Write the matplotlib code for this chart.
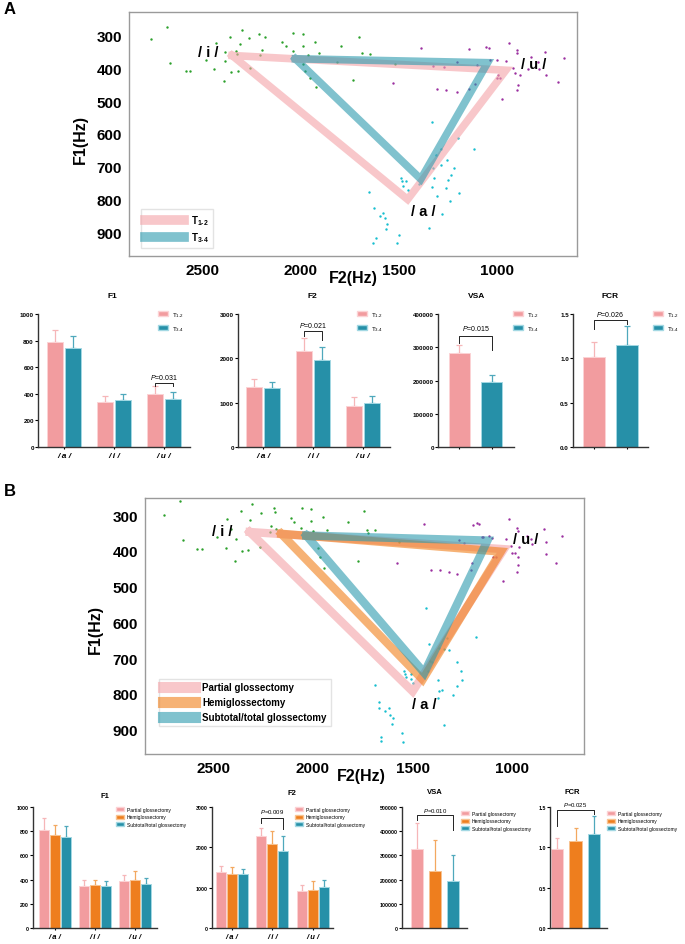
import matplotlib
matplotlib.use('Agg')
import matplotlib.pyplot as plt
from matplotlib.lines import Line2D
from matplotlib.patches import Patch
import numpy as np

plt.rcParams['font.family'] = ['Liberation Sans', 'DejaVu Sans']
plt.rcParams['mathtext.fontset'] = 'custom'
plt.rcParams['mathtext.rm'] = 'Liberation Sans'
plt.rcParams['mathtext.it'] = 'Liberation Sans:italic'

# ---------------- data ----------------
vowels = ['/ a /', '/ i /', '/ u /']

# vowel triangle corners (order: /i/, /u/, /a/), F2 and F1 in Hz
triA_t12_f2 = [2347, 954, 1454]
triA_t12_f1 = [360, 405, 800]
triA_t34_f2 = [2025, 1047, 1387]
triA_t34_f1 = [370, 382, 738]

triB_part_f2 = [2317, 1042, 1500]
triB_part_f1 = [347, 395, 793]
triB_hemi_f2 = [2159, 1058, 1450]
triB_hemi_f1 = [352, 402, 760]
triB_sub_f2 = [2033, 1125, 1442]
triB_sub_f1 = [357, 371, 741]

# individual tokens, panel A
A_i_f2 = [2760, 2680, 2663, 2583, 2564, 2481, 2437, 2428, 2387, 2381, 2381, 2357, 2352, 2328, 2324,
          2318, 2306, 2299, 2263, 2255, 2211, 2207, 2194, 2182, 2093, 2073, 2039, 2035, 1988, 1986,
          1986, 1962, 1949, 1923, 1918, 1903, 1813, 1792, 1734, 1704, 1688, 1648, 1520, 1974]
A_i_f1 = [311, 272, 382, 407, 406, 373, 401, 323, 437, 349, 377, 302, 410, 346, 356,
          406, 326, 282, 307, 397, 294, 357, 342, 303, 320, 330, 346, 292, 294, 330,
          387, 357, 428, 318, 457, 352, 380, 330, 436, 302, 351, 354, 386, 406]
A_u_f2 = [1387, 1324, 1268, 1306, 1260, 1204, 1204, 1141, 1141, 1110, 1102, 1056, 1042, 1034, 1001,
          984, 974, 954, 940, 920, 906, 898, 898, 894, 898, 882, 840, 826, 792, 787, 755, 750, 690,
          656, 1527, 996, 1000]
A_u_f1 = [338, 393, 395, 462, 465, 381, 472, 341, 462, 448, 390, 334, 338, 375, 373,
          429, 492, 378, 322, 398, 415, 342, 351, 450, 465, 420, 402, 366, 380, 400, 349, 420, 442,
          367, 443, 420, 430]
A_a_f2 = [1651, 1625, 1629, 1617, 1595, 1580, 1569, 1563, 1557, 1508, 1498, 1489, 1484, 1476, 1464,
          1452, 1394, 1347, 1328, 1323, 1319, 1311, 1302, 1285, 1285, 1277, 1260, 1255, 1251, 1238,
          1234, 1217, 1200, 1192, 1115, 1330]
A_a_f1 = [776, 825, 932, 919, 850, 841, 858, 889, 875, 933, 908, 733, 745, 760, 743,
          772, 753, 886, 763, 704, 736, 665, 789, 647, 696, 844, 766, 681, 741, 804,
          726, 703, 612, 781, 647, 564]

# individual tokens, panel B
B_i_f2 = [2745, 2667, 2650, 2579, 2555, 2480, 2437, 2430, 2412, 2387, 2389, 2362, 2355, 2327, 2314,
          2305, 2267, 2259, 2217, 2209, 2195, 2192, 2183, 2112, 2095, 2058, 2055, 2012, 2008, 2000,
          1973, 1967, 1950, 1945, 1930, 1825, 1775, 1742, 1728, 1725, 1688, 1567]
B_i_f1 = [300, 259, 369, 396, 395, 362, 392, 312, 338, 367, 428, 289, 399, 397, 314,
          270, 388, 294, 347, 331, 279, 290, 338, 308, 319, 336, 279, 282, 316, 345,
          393, 418, 306, 448, 341, 319, 428, 289, 341, 349, 342, 374]
B_u_f2 = [1578, 1442, 1408, 1362, 1320, 1278, 1267, 1245, 1208, 1200, 1175, 1167, 1153, 1145, 1117,
          1100, 1095, 1080, 1047, 1033, 1017, 1005, 1000, 988, 978, 975, 973, 972, 972, 967,
          925, 905, 900, 842, 833, 833, 783, 750, 1205]
B_u_f1 = [433, 326, 452, 453, 458, 465, 369, 379, 452, 328, 321, 326, 362, 360, 359,
          364, 416, 418, 485, 368, 311, 385, 407, 406, 459, 335, 343, 417, 440, 390,
          357, 368, 380, 338, 410, 376, 434, 357, 435]
B_a_f2 = [1687, 1670, 1667, 1658, 1658, 1637, 1620, 1612, 1603, 1600, 1553, 1550, 1542, 1538, 1533,
          1508, 1507, 1500, 1433, 1425, 1417, 1412, 1403, 1375, 1375, 1370, 1367, 1353, 1345, 1342,
          1328, 1318, 1300, 1278, 1278, 1258, 1253, 1183]
B_a_f1 = [775, 823, 838, 921, 932, 849, 840, 859, 883, 866, 909, 935, 736, 743, 753,
          744, 758, 769, 560, 736, 660, 708, 711, 762, 810, 793, 672, 788, 886, 674,
          644, 677, 804, 779, 712, 736, 760, 641]

# bar charts, panel A (T1-2 vs T3-4)
A_f1_t12 = [790, 340, 397]
A_f1_t12_sd = [88, 46, 58]
A_f1_t34 = [742, 355, 364]
A_f1_t34_sd = [94, 42, 47]
A_f2_t12 = [1364, 2171, 920]
A_f2_t12_sd = [166, 294, 203]
A_f2_t34 = [1334, 1967, 1002]
A_f2_t34_sd = [121, 294, 159]
A_vsa = [282000, 194000]
A_vsa_sd = [26000, 22000]
A_fcr = [1.02, 1.153]
A_fcr_sd = [0.167, 0.207]

# bar charts, panel B (partial / hemi / subtotal-total)
B_f1 = [[810, 343, 392], [768, 354, 398], [749, 345, 367]]
B_f1_sd = [[99, 55, 42], [80, 44, 69], [91, 47, 50]]
B_f2 = [[1400, 2278, 920], [1342, 2080, 936], [1342, 1914, 1019]]
B_f2_sd = [[149, 199, 157], [166, 314, 224], [133, 364, 166]]
B_vsa = [327000, 237600, 193400]
B_vsa_sd = [108000, 125400, 106300]
B_fcr = [0.974, 1.077, 1.164]
B_fcr_sd = [0.141, 0.162, 0.220]

A_labels = ['T$_{\\mathregular{1\u20102}}$', 'T$_{\\mathregular{3\u20104}}$']
B_labels = ['Partial glossectomy', 'Hemiglossectomy', 'Subtotal/total glossectomy']

# ---------------- style ----------------
PINK, TEAL, ORANGE = '#f29c9f', '#2690a8', '#ee7e1e'
PINK_E, TEAL_E, ORANGE_E = '#fcd3d5', '#a3d8e3', '#f8c391'
PINK_ER, TEAL_ER, ORANGE_ER = '#f6b6b8', '#4fa8bc', '#f3a860'
TRI_PINK, TRI_TEAL, TRI_ORANGE = '#f4a3a8', '#2b9aae', '#f07f1a'

W, H = 685, 945
fig = plt.figure(figsize=(6.85, 9.45), dpi=100)


def px_axes(l, t, r, b):
    return fig.add_axes([l / W, 1 - b / H, (r - l) / W, (b - t) / H])


def triangle(ax, xlim, ylim, tris, lw, pts, vlabels):
    for f2, f1, c in pts:
        ax.scatter(f2, f1, s=3, color=c, linewidths=0, zorder=1)
    for f2, f1, c in tris:
        ax.plot(f2 + f2[:1], f1 + f1[:1], color=c, lw=lw, alpha=0.6,
                solid_joinstyle='miter', zorder=2)
    ax.set_xlim(*xlim)
    ax.set_ylim(*ylim)
    ax.set_xticks([2500, 2000, 1500, 1000])
    ax.set_yticks(range(300, 1000, 100))
    ax.tick_params(length=0, labelsize=11, pad=5)
    for lab in ax.get_xticklabels() + ax.get_yticklabels():
        lab.set_fontweight('bold')
    for s in ax.spines.values():
        s.set_color('#9a9a9a')
        s.set_linewidth(1.0)
    for txt, x, y in vlabels:
        ax.text(x, y, txt, fontsize=10.5, fontweight='bold', ha='center', va='center', zorder=3)


def style_bar_axes(ax, ticks, fmt, labsize):
    for s in ['top', 'right']:
        ax.spines[s].set_visible(False)
    for s in ['left', 'bottom']:
        ax.spines[s].set_color('#333333')
        ax.spines[s].set_linewidth(1.0)
    ax.set_yticks(ticks)
    ax.set_yticklabels([fmt(t) for t in ticks], fontsize=labsize, fontweight='bold')
    ax.set_ylim(ticks[0], ticks[-1])
    ax.tick_params(axis='y', length=2, width=0.8, pad=1)
    ax.tick_params(axis='x', length=1.5, width=0.8, pad=2)


def bars(ax, x, h, sd, c, ec, erc, w, cap):
    ax.bar(x, h, width=w, color=c, edgecolor=ec, linewidth=0.7, zorder=2)
    ax.errorbar(x, h, yerr=[np.zeros(len(h)), sd], fmt='none', ecolor=erc,
                elinewidth=0.9, capsize=cap, capthick=0.9, zorder=1)


def bracket(ax, x0, x1, y, yl, yr, txt, fs, ty):
    ax.plot([x0, x0, x1, x1], [yl, y, y, yr], color='#222222', lw=0.7, clip_on=False)
    ax.text((x0 + x1) / 2, ty, txt, ha='center', va='bottom', fontsize=fs, clip_on=False)


def small_legend(ax, handles, labels, x, y, fs, sp):
    ax.legend(handles, labels, loc='upper left', bbox_to_anchor=(x / W, 1 - y / H),
              bbox_transform=fig.transFigure, frameon=False, fontsize=fs,
              handlelength=1.6, handleheight=0.9, handletextpad=0.6,
              labelspacing=sp, borderpad=0, borderaxespad=0)


# ---------------- panel A triangle ----------------
axA = px_axes(129, 13, 577, 257)
triangle(axA, (2872, 592), (973, 227),
         [(triA_t12_f2, triA_t12_f1, TRI_PINK), (triA_t34_f2, triA_t34_f1, TRI_TEAL)],
         5.5,
         [(A_i_f2, A_i_f1, '#2ca02c'), (A_u_f2, A_u_f1, '#9b30a0'), (A_a_f2, A_a_f1, '#17becf')],
         [('/ i /', 2470, 350), ('/ u /', 810, 387), ('/ a /', 1375, 836)])
axA.legend([Line2D([], [], color=TRI_PINK, lw=7, alpha=0.6),
            Line2D([], [], color=TRI_TEAL, lw=7, alpha=0.6)],
           A_labels, loc='lower left', bbox_to_anchor=(0.02, 0.02), handlelength=4.0,
           borderaxespad=0.3, fancybox=False, edgecolor='#dddddd', labelspacing=0.35,
           prop={'weight': 'bold', 'size': 7})
fig.text(80 / W, 1 - 140 / H, 'F1(Hz)', rotation=90, fontsize=11.5, fontweight='bold',
         ha='center', va='center')
fig.text(353 / W, 1 - 279 / H, 'F2(Hz)', fontsize=11.5, fontweight='bold',
         ha='center', va='center')
fig.text(4 / W, 1 - 9 / H, 'A', fontsize=12, fontweight='bold', va='center')

# ---------------- panel A bars ----------------
Ahandles = [Patch(facecolor=PINK, edgecolor=PINK_E), Patch(facecolor=TEAL, edgecolor=TEAL_E)]
xg = np.arange(3)

ax = px_axes(38, 315, 190, 448)
bars(ax, xg - 0.18, A_f1_t12, A_f1_t12_sd, PINK, PINK_E, PINK_ER, 0.33, 2.5)
bars(ax, xg + 0.18, A_f1_t34, A_f1_t34_sd, TEAL, TEAL_E, TEAL_ER, 0.33, 2.5)
style_bar_axes(ax, [0, 200, 400, 600, 800, 1000], lambda t: '%d' % t, 4.5)
ax.set_xlim(-0.52, 2.52)
ax.set_xticks(xg)
ax.set_xticklabels(vowels, fontsize=6, fontweight='bold', fontstyle='italic')
bracket(ax, 1.82, 2.18, 480, 455, 455, '$\\it{P}$=0.031', 5, 500)
small_legend(ax, Ahandles, A_labels, 158, 311, 4.5, 0.8)
fig.text(112 / W, 1 - 296 / H, 'F1', fontsize=6, fontweight='bold', ha='center', va='center')

ax = px_axes(238, 315, 390, 448)
bars(ax, xg - 0.18, A_f2_t12, A_f2_t12_sd, PINK, PINK_E, PINK_ER, 0.33, 2.5)
bars(ax, xg + 0.18, A_f2_t34, A_f2_t34_sd, TEAL, TEAL_E, TEAL_ER, 0.33, 2.5)
style_bar_axes(ax, [0, 1000, 2000, 3000], lambda t: '%d' % t, 4.5)
ax.set_xlim(-0.5, 2.54)
ax.set_xticks(xg)
ax.set_xticklabels(vowels, fontsize=6, fontweight='bold', fontstyle='italic')
bracket(ax, 0.82, 1.18, 2608, 2510, 2420, '$\\it{P}$=0.021', 5, 2660)
small_legend(ax, Ahandles, A_labels, 357, 311, 4.5, 0.8)
fig.text(312 / W, 1 - 296 / H, 'F2', fontsize=6, fontweight='bold', ha='center', va='center')

ax = px_axes(438, 315, 514, 448)
bars(ax, [0], A_vsa[:1], A_vsa_sd[:1], PINK, PINK_E, PINK_ER, 0.64, 2.5)
bars(ax, [1], A_vsa[1:], A_vsa_sd[1:], TEAL, TEAL_E, TEAL_ER, 0.64, 2.5)
style_bar_axes(ax, [0, 100000, 200000, 300000, 400000], lambda t: '%d' % t, 4.5)
ax.set_xlim(-0.64, 1.67)
ax.set_xticks([0, 1])
ax.set_xticklabels([])
bracket(ax, 0, 1, 333000, 312000, 292000, '$\\it{P}$=0.015', 5, 345000)
small_legend(ax, Ahandles, A_labels, 513, 311, 4.5, 0.8)
fig.text(477 / W, 1 - 296 / H, 'VSA', fontsize=6, fontweight='bold', ha='center', va='center')

ax = px_axes(573, 315, 648, 448)
bars(ax, [0], A_fcr[:1], A_fcr_sd[:1], PINK, PINK_E, PINK_ER, 0.67, 2.5)
bars(ax, [1], A_fcr[1:], A_fcr_sd[1:], TEAL, TEAL_E, TEAL_ER, 0.67, 2.5)
style_bar_axes(ax, [0.0, 0.5, 1.0, 1.5], lambda t: '%.1f' % t, 4.5)
ax.set_xlim(-0.64, 1.64)
ax.set_xticks([0, 1])
ax.set_xticklabels([])
bracket(ax, 0, 1, 1.436, 1.33, 1.39, '$\\it{P}$=0.026', 5, 1.46)
small_legend(ax, Ahandles, A_labels, 653, 311, 4.5, 0.8)
fig.text(610 / W, 1 - 296 / H, 'FCR', fontsize=6, fontweight='bold', ha='center', va='center')

# ---------------- panel B triangle ----------------
axB = px_axes(145, 499, 584, 755)
triangle(axB, (2842, 641), (968, 252),
         [(triB_part_f2, triB_part_f1, TRI_PINK), (triB_hemi_f2, triB_hemi_f1, TRI_ORANGE),
          (triB_sub_f2, triB_sub_f1, TRI_TEAL)],
         6.0,
         [(B_i_f2, B_i_f1, '#2ca02c'), (B_u_f2, B_u_f1, '#9b30a0'), (B_a_f2, B_a_f1, '#17becf')],
         [('/ i /', 2455, 343), ('/ u /', 935, 366), ('/ a /', 1440, 829)])
axB.legend([Line2D([], [], color=TRI_PINK, lw=8, alpha=0.6),
            Line2D([], [], color=TRI_ORANGE, lw=8, alpha=0.6),
            Line2D([], [], color=TRI_TEAL, lw=8, alpha=0.6)],
           B_labels, loc='lower left', bbox_to_anchor=(0.02, 0.09), handlelength=3.3,
           fancybox=False, edgecolor='#dddddd', labelspacing=0.5,
           prop={'weight': 'bold', 'size': 7})
fig.text(95 / W, 1 - 630 / H, 'F1(Hz)', rotation=90, fontsize=11.5, fontweight='bold',
         ha='center', va='center')
fig.text(361 / W, 1 - 777 / H, 'F2(Hz)', fontsize=11.5, fontweight='bold',
         ha='center', va='center')
fig.text(4 / W, 1 - 492 / H, 'B', fontsize=12, fontweight='bold', va='center')

# ---------------- panel B bars ----------------
Bhandles = [Patch(facecolor=PINK, edgecolor=PINK_E), Patch(facecolor=ORANGE, edgecolor=ORANGE_E),
            Patch(facecolor=TEAL, edgecolor=TEAL_E)]
cols = [(PINK, PINK_E, PINK_ER), (ORANGE, ORANGE_E, ORANGE_ER), (TEAL, TEAL_E, TEAL_ER)]
offs = [-0.275, 0, 0.275]

ax = px_axes(33, 808, 157, 929)
for k in range(3):
    bars(ax, xg + offs[k], B_f1[k], B_f1_sd[k], *cols[k], 0.25, 1.5)
style_bar_axes(ax, [0, 200, 400, 600, 800, 1000], lambda t: '%d' % t, 3.8)
ax.set_xlim(-0.55, 2.55)
ax.set_xticks(xg)
ax.set_xticklabels(vowels, fontsize=5.5, fontweight='bold', fontstyle='italic')
small_legend(ax, Bhandles, B_labels, 116, 808, 3.6, 0.5)
fig.text(105 / W, 1 - 796 / H, 'F1', fontsize=5.5, fontweight='bold', ha='center', va='center')

ax = px_axes(212, 808, 333, 929)
for k in range(3):
    bars(ax, xg + offs[k], B_f2[k], B_f2_sd[k], *cols[k], 0.25, 1.5)
style_bar_axes(ax, [0, 1000, 2000, 3000], lambda t: '%d' % t, 3.8)
ax.set_xlim(-0.49, 2.5)
ax.set_xticks(xg)
ax.set_xticklabels(vowels, fontsize=5.5, fontweight='bold', fontstyle='italic')
bracket(ax, 0.725, 1.275, 2734, 2602, 2461, '$\\it{P}$=0.009', 4.3, 2790)
small_legend(ax, Bhandles, B_labels, 295, 808, 3.6, 0.5)
fig.text(292 / W, 1 - 794 / H, 'F2', fontsize=5.5, fontweight='bold', ha='center', va='center')

ax = px_axes(402, 808, 467, 929)
for k in range(3):
    bars(ax, [k], B_vsa[k:k + 1], B_vsa_sd[k:k + 1], *cols[k], 0.67, 1.5)
style_bar_axes(ax, [0, 100000, 200000, 300000, 400000, 500000], lambda t: '%d' % t, 3.8)
ax.set_xlim(-0.83, 2.78)
ax.set_xticks([])
bracket(ax, 0, 2, 465000, 445000, 403000, '$\\it{P}$=0.010', 4.3, 472000)
small_legend(ax, Bhandles, B_labels, 461, 812, 3.6, 0.5)
fig.text(435 / W, 1 - 793 / H, 'VSA', fontsize=5.5, fontweight='bold', ha='center', va='center')

ax = px_axes(550, 808, 607, 929)
for k in range(3):
    bars(ax, [k], B_fcr[k:k + 1], B_fcr_sd[k:k + 1], *cols[k], 0.67, 1.5)
style_bar_axes(ax, [0.0, 0.5, 1.0, 1.5], lambda t: '%.1f' % t, 3.8)
ax.set_xlim(-0.38, 2.7)
ax.set_xticks([])
bracket(ax, 0, 2, 1.467, 1.26, 1.417, '$\\it{P}$=0.025', 4.3, 1.49)
small_legend(ax, Bhandles, B_labels, 607, 812, 3.6, 0.5)
fig.text(572 / W, 1 - 793 / H, 'FCR', fontsize=5.5, fontweight='bold', ha='center', va='center')

fig.savefig('out.png', dpi=100)
